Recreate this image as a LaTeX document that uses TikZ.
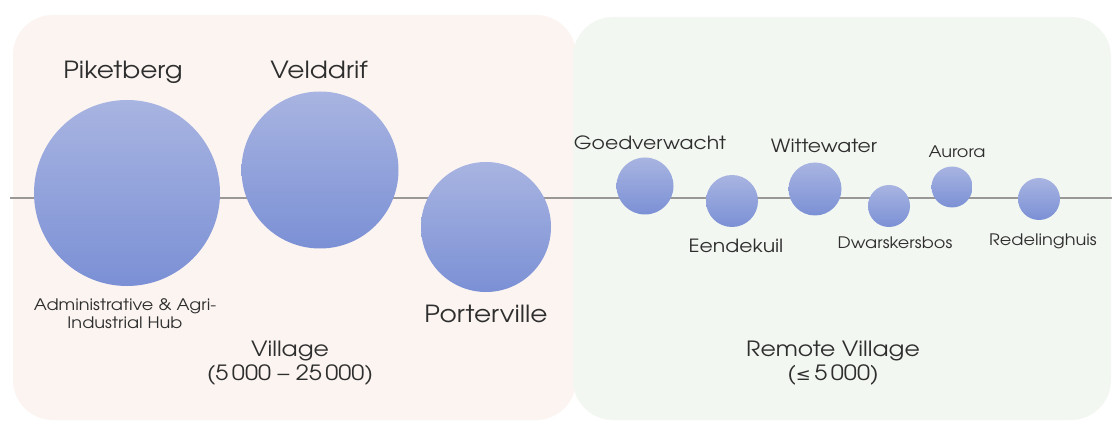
\documentclass[tikz,border=0pt]{standalone}
\usepackage{fontspec}
\setmainfont{texgyreadventor-regular.otf}[FakeStretch=1.12]
\newfontfamily\dejavu{DejaVu Sans}[FakeStretch=1.05]
\definecolor{pinkbg}{HTML}{FBF4F1}
\definecolor{greenbg}{HTML}{F3F7F1}
\definecolor{linegray}{HTML}{9A9896}
\definecolor{ctop}{HTML}{A8B4E1}
\definecolor{cbot}{HTML}{7B90D5}
\definecolor{txt}{HTML}{2E2E2E}
\begin{document}
\begin{tikzpicture}[x=1pt,y=1pt,
  panel/.style={rounded corners=40pt},
  town/.style={circle, inner sep=0pt, top color=ctop, bottom color=cbot, draw=none},
  bigname/.style={text=txt, font=\fontsize{23.6}{26}\selectfont, inner sep=0pt, anchor=base},
  smallname/.style={text=txt, font=\fontsize{18.2}{20}\selectfont, inner sep=0pt, anchor=base},
  tinyname/.style={text=txt, font=\fontsize{15.8}{18}\selectfont, inner sep=0pt, anchor=base},
  caption/.style={text=txt, font=\fontsize{21}{24}\selectfont, align=center, inner sep=0pt},
  note/.style={text=txt, font=\fontsize{15.8}{18}\selectfont, align=center, inner sep=0pt},
  axis/.style={draw=linegray, line width=2.4pt}]
\useasboundingbox (0,0) rectangle (1118,426);
\fill[white] (0,0) rectangle (1118,426);
% panels
\fill[pinkbg, panel] (13,6) rectangle (576,411);
\fill[greenbg, panel] (573,6) rectangle (1111,409);
% axis
\coordinate (axL) at (10,228);
\coordinate (axR) at (1112,228);
\draw[axis] (axL) -- (axR);
% towns
\node[town, minimum size=186pt] (pik) at (127,233) {};
\node[town, minimum size=157pt] (vel) at (320,256) {};
\node[town, minimum size=130pt] (por) at (486,199) {};
\node[town, minimum size=57pt] (goe) at (645,240) {};
\node[town, minimum size=52pt] (een) at (732,225) {};
\node[town, minimum size=53pt] (wit) at (815,237) {};
\node[town, minimum size=42pt] (dwa) at (889,220) {};
\node[town, minimum size=41pt] (aur) at (952,239) {};
\node[town, minimum size=42pt] (red) at (1039,227) {};
% labels
\node[bigname] (lpik) at (123,347) {Piketberg};
\node[bigname] (lvel) at (319,347) {Velddrif};
\node[bigname] (lpor) at (486,104) {Porterville};
\node[note] (lhub) at (125,112) {Administrative \& Agri-\\Industrial Hub};
\node[smallname] (lgoe) at (650,276) {Goedverwacht};
\node[smallname] (lwit) at (824,273) {Wittewater};
\node[tinyname] (laur) at (957,268) {Aurora};
\node[smallname] (leen) at (736,174) {Eendekuil};
\node[tinyname] (ldwa) at (895,177) {Dwarskersbos};
\node[tinyname] (lred) at (1043,181) {Redelinghuis};
\node[caption] (cvil) at (290,63) {Village\\(5\,000 – 25\,000)};
\node[caption] (crem) at (833,63) {Remote Village\\({\dejavu\fontsize{17}{20}\selectfont ≤}\,5\,000)};
\end{tikzpicture}
\end{document}
